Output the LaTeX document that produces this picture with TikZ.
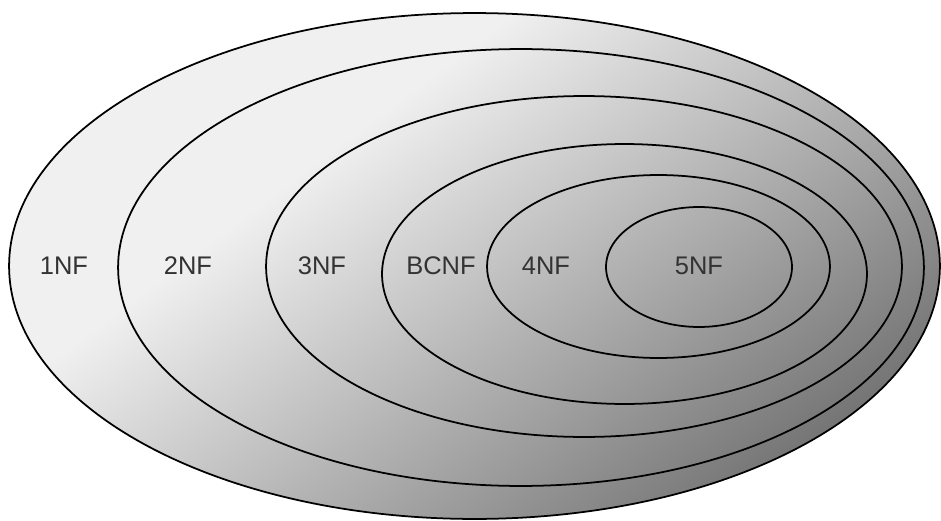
\documentclass[tikz,border=0pt]{standalone}
\usepackage{fontspec}
\setsansfont{Liberation Sans}
\usetikzlibrary{shapes.geometric}
\definecolor{nflight}{HTML}{F0F0F0}
\definecolor{nfdark}{HTML}{757575}
\definecolor{nftext}{HTML}{333333}
\pgfdeclareverticalshading{nfgrad}{100bp}{%
  color(0bp)=(nfdark); color(37.5bp)=(nfdark);
  color(62.5bp)=(nflight); color(100bp)=(nflight)}

\begin{document}
\begin{tikzpicture}[
  x=0.02cm, y=-0.02cm,
  ring/.style={ellipse, draw=black, line width=1pt, inner sep=0pt},
  nflabel/.style={font=\sffamily\fontsize{14.5}{17}\selectfont, text=nftext, inner sep=0pt},
]
  \useasboundingbox (0,0) rectangle (941,521);

  % degradado dentro de la elipse exterior
  \begin{scope}
    \clip (474.5,266) ellipse [x radius=465.5, y radius=253];
    \shade[shading=nfgrad, shading angle=36.87] (0,-192) rectangle (1048,856);
  \end{scope}

  % elipses anidadas
  \foreach \nm/\px/\py/\ew/\eh in {1nf/474.5/266/18.62/10.12, 2nf/521/267.5/16.12/8.74,
      3nf/584/266.5/12.72/6.82, bcnf/624.5/274/9.70/5.20,
      4nf/658.5/266.5/6.86/3.66, 5nf/699/267/3.72/2.40} {
    \node[ring, minimum width=\ew cm, minimum height=\eh cm] (r\nm) at (\px,\py) {};
  }

  % etiquetas
  \foreach \nm/\txt/\px in {1nf/1NF/64, 2nf/2NF/188, 3nf/3NF/322,
      bcnf/BCNF/441, 4nf/4NF/546, 5nf/5NF/699} {
    \node[nflabel] (t\nm) at (\px,266) {\txt};
  }
\end{tikzpicture}
\end{document}
